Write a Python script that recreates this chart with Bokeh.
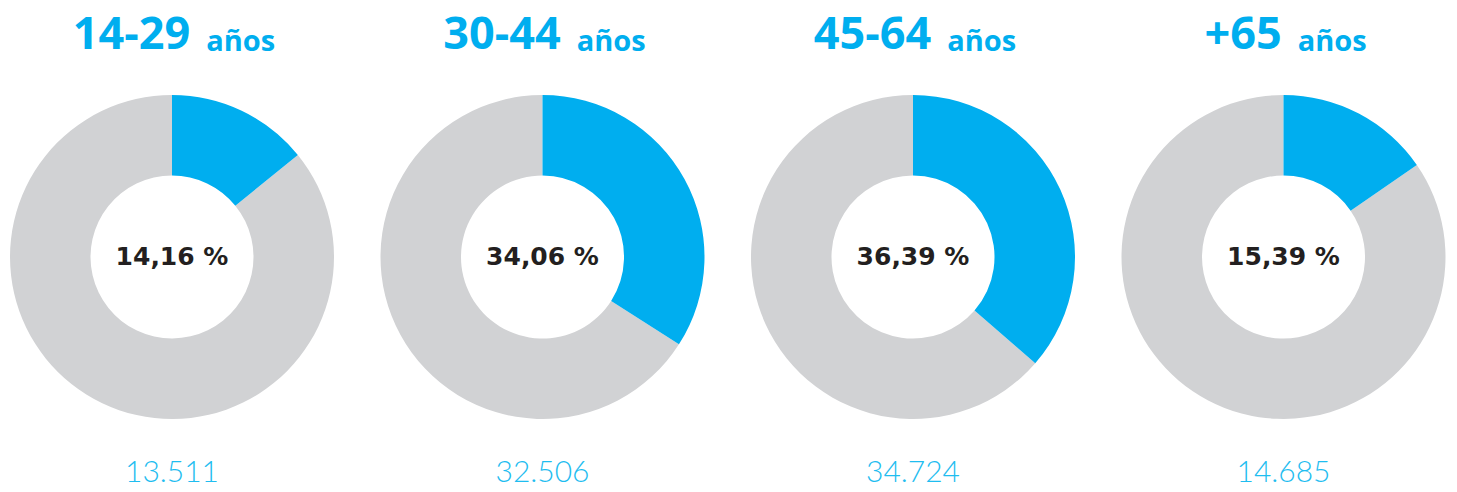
import math
from bokeh.plotting import figure
from bokeh.models import Range1d, ColumnDataSource
from bokeh.core.properties import value
from bokeh.embed import file_html
from bokeh.resources import INLINE

# ---- data ----
groups = ["14-29", "30-44", "45-64", "+65"]
unit = "años"
pct = [14.16, 34.06, 36.39, 15.39]
counts = [13511, 32506, 34724, 14685]

# ---- styles / layout ----
W, H = 1457, 492
BLUE = "#00AEEF"
GREY = "#D1D2D4"
DARK = "#231F20"
LIGHT_BLUE = "#1FBDF0"
x0, dx = 171.5, 370.5
cy = 235.5
r_out, r_in = 162, 81.5

p = figure(width=W, height=H, x_range=Range1d(0, W), y_range=Range1d(0, H),
           output_backend="svg", toolbar_location=None, min_border=0)
p.axis.visible = False
p.grid.visible = False
p.outline_line_color = None
p.background_fill_color = "white"
p.border_fill_color = "white"

cxs = [x0 + i * dx for i in range(len(groups))]
theta = [v / 100 * 2 * math.pi for v in pct]
top = math.pi / 2

src = ColumnDataSource(dict(
    x=cxs, y=[cy] * len(cxs),
    blue_start=[top - t for t in theta], blue_end=[top] * len(cxs),
    grey_start=[top] * len(cxs), grey_end=[top - t for t in theta],
))
p.annular_wedge(x="x", y="y", inner_radius=r_in, outer_radius=r_out,
                start_angle="grey_start", end_angle="grey_end", direction="anticlock",
                fill_color=GREY, line_color=None, source=src)
p.annular_wedge(x="x", y="y", inner_radius=r_in, outer_radius=r_out,
                start_angle="blue_start", end_angle="blue_end", direction="anticlock",
                fill_color=BLUE, line_color=None, source=src)

# center percentage labels
pct_labels = [f"{v:.2f}".replace(".", ",") + " %" for v in pct]
p.text(x=cxs, y=[cy + 1] * len(cxs), text=pct_labels, text_align="center",
       text_baseline="middle", text_font=value("DejaVu Sans"),
       text_font_style="bold", text_font_size="25px", text_color=DARK)

# bottom counts
count_labels = [f"{c:,}".replace(",", ".") for c in counts]
p.text(x=cxs, y=[21] * len(cxs), text=count_labels, text_align="center",
       text_baseline="middle", text_font=value("Lato Light"),
       text_font_size="30px", text_color=LIGHT_BLUE)

# titles: big group label + smaller "años"
big_fs, small_fs, gap = 45, 29, 16
cw = {"-": 0.322}
def big_w(s):
    return sum(cw.get(ch, 0.572) for ch in s) * big_fs
unit_w = 2.34 * small_fs
bx, ux = [], []
for cx, g in zip(cxs, groups):
    tot = big_w(g) + gap + unit_w
    left = cx + 1.5 - tot / 2
    bx.append(left)
    ux.append(left + big_w(g) + gap)
ty = H - 32
p.text(x=bx, y=[ty] * len(cxs), text=groups, text_align="left",
       text_baseline="middle", text_font=value("Open Sans"),
       text_font_style="bold", text_font_size=f"{big_fs}px", text_color=BLUE)
p.text(x=ux, y=[ty - 7] * len(cxs), text=[unit] * len(cxs), text_align="left",
       text_baseline="middle", text_font=value("Open Sans"),
       text_font_style="bold", text_font_size=f"{small_fs}px", text_color=BLUE)

open("out.html", "w").write(file_html(p, INLINE))
